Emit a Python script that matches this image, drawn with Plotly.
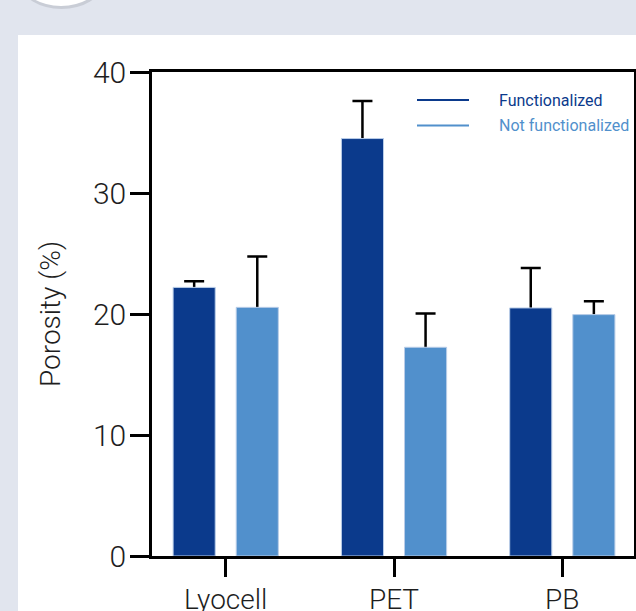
import plotly.graph_objects as go

# ---- data ----
categories = ["Lyocell", "PET", "PB"]
series_names = ["Functionalized", "Not functionalized"]
functionalized = [22.2, 34.5, 20.5]
functionalized_err = [0.5, 3.1, 3.3]
not_functionalized = [20.55, 17.25, 19.95]
not_functionalized_err = [4.2, 2.8, 1.1]
y_ticks = [0, 10, 20, 30, 40]

# ---- styles ----
DARK = "#0b3a8c"
LIGHT = "#5190cc"
EDGE = "#b9cde8"
BG = "#e1e5ee"
FONT = "Roboto, Liberation Sans, Arial, sans-serif"
TXT = "#1e1e1e"

W, H = 636, 611
ML, MR, MT, MB = 152, 2, 72, 55
PW, PH = W - ML - MR, H - MT - MB


def px_x(p):
    return (p - ML) / PW


def px_y(p):
    return (H - MB - p) / PH


fig = go.Figure()
series = [
    (series_names[0], functionalized, functionalized_err, DARK, "f"),
    (series_names[1], not_functionalized, not_functionalized_err, LIGHT, "n"),
]
# error bars (upper only) drawn first, the bars are drawn over their lower part
for name, vals, errs, col, grp in series:
    fig.add_trace(go.Bar(
        x=categories, y=vals, name=name, showlegend=False, offsetgroup=grp,
        marker=dict(color="rgba(0,0,0,0)", line=dict(width=0)),
        error_y=dict(type="data", array=errs, arrayminus=vals,
                     symmetric=False, color="black", thickness=2.5, width=10),
        hoverinfo="skip",
    ))
for name, vals, errs, col, grp in series:
    fig.add_trace(go.Bar(
        x=categories, y=vals, name=name, showlegend=False, offsetgroup=grp,
        marker=dict(color=col, line=dict(color=EDGE, width=1)),
    ))

shapes = [
    dict(type="rect", xref="paper", yref="paper", layer="below",
         x0=px_x(18), x1=px_x(W + 5), y0=px_y(H + 5), y1=px_y(35),
         fillcolor="white", line=dict(width=0)),
    dict(type="circle", xref="paper", yref="paper", layer="below",
         x0=px_x(21), x1=px_x(102), y0=px_y(9), y1=px_y(-42),
         fillcolor="#c9cdd6", line=dict(width=0)),
    dict(type="circle", xref="paper", yref="paper", layer="below",
         x0=px_x(22), x1=px_x(100), y0=px_y(6), y1=px_y(-44),
         fillcolor="white", line=dict(width=0)),
]
annotations = []
# legend (line samples + coloured labels)
for i, (name, col) in enumerate([(series_names[0], DARK), (series_names[1], LIGHT)]):
    yy = 100 + i * 25.5
    shapes.append(dict(type="line", xref="paper", yref="paper",
                       x0=px_x(417), x1=px_x(469), y0=px_y(yy), y1=px_y(yy),
                       line=dict(color=col, width=2)))
    annotations.append(dict(xref="paper", yref="paper", x=px_x(497), y=px_y(yy),
                            xanchor="left", yanchor="middle", showarrow=False,
                            text=name, font=dict(size=16, color=col, family=FONT,
                                                 weight=400)))

fig.update_layout(
    width=W, height=H,
    margin=dict(l=ML, r=MR, t=MT, b=MB, pad=0, autoexpand=False),
    paper_bgcolor=BG, plot_bgcolor="white",
    font=dict(family=FONT, color=TXT, size=28, weight=300),
    barmode="group", bargap=0.25, bargroupgap=0.333,
    shapes=shapes, annotations=annotations,
    showlegend=False,
    xaxis=dict(range=[-0.438, 2.426], showline=True, linecolor="black",
               linewidth=2.5, mirror=True, ticks="outside", ticklen=18,
               tickwidth=2.5, tickcolor="black", showgrid=False,
               ticklabelstandoff=-1, automargin=False,
               tickfont=dict(size=28, color=TXT, family=FONT, weight=300)),
    yaxis=dict(range=[0, 40], tickvals=y_ticks, showline=True,
               linecolor="black", linewidth=2.5, mirror=True,
               ticks="outside", ticklen=19, tickwidth=2.5, tickcolor="black",
               showgrid=False, zeroline=False, automargin=False,
               ticklabelstandoff=-2,
               tickfont=dict(size=30, color=TXT, family=FONT, weight=300),
               title=dict(text="Porosity (%)",
                          font=dict(size=28, color=TXT, family=FONT, weight=300),
                          standoff=25)),
)

fig.write_html("out.html")
